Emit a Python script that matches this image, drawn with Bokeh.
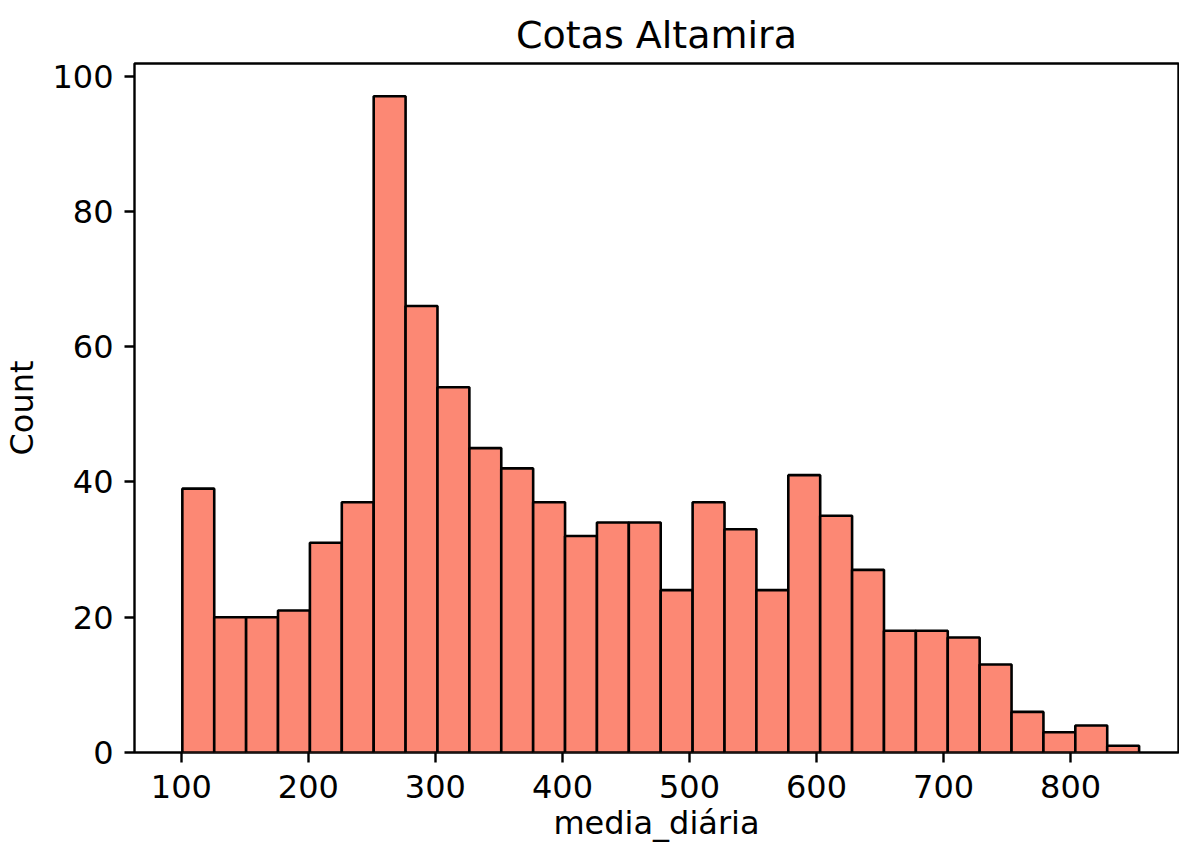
import numpy as np
from bokeh.plotting import figure
from bokeh.models import Range1d, FixedTicker, ColumnDataSource
from bokeh.embed import file_html
from bokeh.resources import INLINE

# ---- data ----
title_text = "Cotas Altamira"
x_label = "media_diária"
y_label = "Count"
counts = [39, 20, 20, 21, 31, 37, 97, 66, 54, 45, 42, 37, 32, 34, 34,
          24, 37, 33, 24, 41, 35, 27, 18, 18, 17, 13, 6, 3, 4, 1]
data_min = 100.8
data_max = 853.9
x_ticks = [100, 200, 300, 400, 500, 600, 700, 800]
y_ticks = [0, 20, 40, 60, 80, 100]

edges = np.linspace(data_min, data_max, len(counts) + 1)
src = ColumnDataSource(dict(left=edges[:-1], right=edges[1:],
                            top=counts, bottom=[0] * len(counts)))

span = data_max - data_min
FONT = "DejaVu Sans"

p = figure(width=1179, height=848, output_backend="svg", toolbar_location=None,
           x_range=Range1d(data_min - 0.05 * span, 884.9),
           y_range=Range1d(0, max(counts) * 1.05),
           min_border_left=127, min_border_right=1, min_border_top=63,
           min_border_bottom=96)

p.quad(left="left", right="right", top="top", bottom="bottom", source=src,
       fill_color="#FC8874", line_color="black", line_width=2.6)

p.title.text = title_text
p.title.align = "center"
p.title.text_font = FONT
p.title.text_font_size = "38px"
p.title.text_font_style = "normal"
p.title.text_color = "black"
p.title.standoff = 13

p.xgrid.visible = False
p.ygrid.visible = False
p.outline_line_color = "black"
p.outline_line_width = 2.4
p.background_fill_color = "white"
p.border_fill_color = "white"

p.xaxis.ticker = FixedTicker(ticks=x_ticks)
p.yaxis.ticker = FixedTicker(ticks=y_ticks)
p.xaxis.axis_label = x_label
p.yaxis.axis_label = y_label

for ax in (p.xaxis[0], p.yaxis[0]):
    ax.axis_line_color = None
    ax.major_tick_out = 10
    ax.major_tick_in = 0
    ax.major_tick_line_width = 2.4
    ax.major_tick_line_color = "black"
    ax.minor_tick_line_color = None
    ax.major_label_text_font = FONT
    ax.major_label_text_font_size = "32px"
    ax.major_label_text_color = "black"
    ax.axis_label_text_font = FONT
    ax.axis_label_text_font_size = "32px"
    ax.axis_label_text_font_style = "normal"
    ax.axis_label_text_color = "black"

p.xaxis.major_label_standoff = 12
p.xaxis.axis_label_standoff = 3
p.yaxis.major_label_standoff = 11
p.yaxis.axis_label_standoff = 8

open("out.html", "w").write(file_html(p, INLINE))
